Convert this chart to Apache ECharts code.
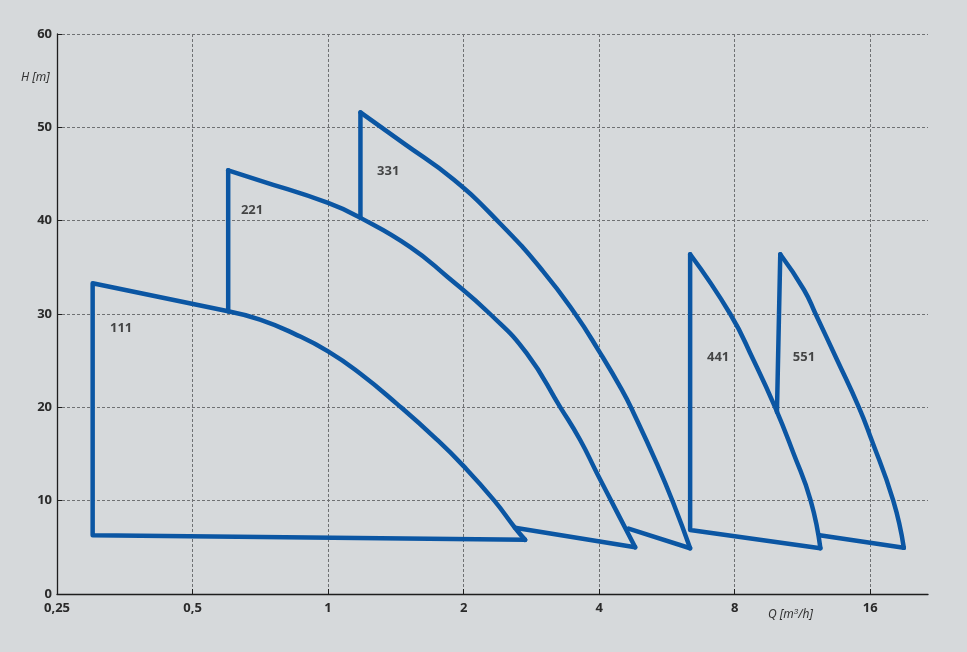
<!DOCTYPE html>
<html>
<head>
<meta charset="utf-8">
<script src="https://cdn.jsdelivr.net/npm/echarts@6/dist/echarts.min.js"></script>
<style>
  html, body { margin: 0; padding: 0; background: #d6d9db; }
  #chart { width: 967px; height: 652px; }
</style>
</head>
<body>
<div id="chart"></div>
<script>
const xTicks = [0.25, 0.5, 1, 2, 4, 8, 16];
const yTicks = [0, 10, 20, 30, 40, 50, 60];

// pump 111
const edge111 = [[2.74, 5.8], [0.3, 6.3], [0.3, 33.3], [0.6, 30.3]];
const curve111 = [[0.6, 30.3], [0.706, 29.4], [0.84, 27.9], [1.0, 26.0], [1.18, 23.6], [1.42, 20.4], [1.74, 16.6], [2.0, 13.7], [2.34, 10.0], [2.6, 7.1], [2.74, 5.8]];

// pump 221
const vert221 = [[0.6, 30.3], [0.6, 45.4]];
const bottom221 = [[2.6, 7.1], [4.81, 5.0]];
const curve221 = [[0.6, 45.4], [0.706, 44.3], [1.0, 41.9], [1.18, 40.3], [1.52, 37.2], [1.84, 34.0], [2.29, 30.0], [2.76, 25.8], [3.28, 20.0], [3.63, 16.5], [3.95, 13.0], [4.38, 8.8], [4.81, 5.0]];

// pump 331
const vert331 = [[1.18, 40.3], [1.18, 51.6]];
const bottom331 = [[4.65, 7.0], [6.37, 4.9]];
const curve331 = [[1.18, 51.6], [1.47, 48.3], [1.9, 44.4], [2.41, 39.7], [3.0, 34.6], [3.54, 30.0], [4.0, 26.0], [4.49, 21.9], [4.77, 19.4], [5.37, 14.0], [5.85, 9.7], [6.37, 4.9]];

// pump 441
const edge441 = [[6.37, 36.4], [6.37, 6.85], [12.4, 4.9]];
const curve441 = [[6.37, 36.4], [7.82, 30.0], [8.8, 25.1], [9.84, 20.0], [10.8, 15.1], [11.8, 10.0], [12.4, 4.9]];

// pump 551
const vert551 = [[9.93, 19.5], [10.1, 36.4]];
const bottom551 = [[12.35, 6.3], [19.0, 4.95]];
const curve551 = [[10.1, 36.4], [11.4, 32.6], [12.1, 30.0], [13.5, 25.1], [15.1, 20.0], [16.0, 16.9], [18.0, 10.0], [19.0, 4.95]];

const pumpNames = ['111', '221', '331', '441', '551'];
const pumpLabelPos = [[0.347, 28.5], [0.678, 41.1], [1.36, 45.3], [7.35, 25.4], [11.4, 25.4]];

const blue = '#0b56a3';
const labelFont = "'Noto Sans', sans-serif";

const straight = [edge111, vert221, bottom221, vert331, bottom331, edge441, vert551, bottom551];
const curves = [curve111, curve221, curve331, curve441, curve551];

const lineSeries = (data, smooth) => ({
  type: 'line',
  data,
  smooth,
  showSymbol: false,
  silent: true,
  lineStyle: { color: blue, width: 4.5, cap: 'round', join: 'round' },
  z: 3
});

const series = [
  ...straight.map(d => lineSeries(d, false)),
  ...curves.map(d => lineSeries(d, 0.5)),
  {
    type: 'scatter',
    symbolSize: 0,
    silent: true,
    data: pumpLabelPos.map((p, i) => ({ value: p, name: pumpNames[i] })),
    label: {
      show: true,
      position: 'inside',
      formatter: p => p.name,
      color: '#1e1e1e',
      fontSize: 13,
      fontWeight: 'bold',
      fontFamily: labelFont
    }
  }
];

const chart = echarts.init(document.getElementById('chart'));
chart.setOption({
  backgroundColor: '#d6d9db',
  animation: false,
  grid: { left: 57, right: 39, top: 34, bottom: 58 },
  xAxis: {
    type: 'log',
    logBase: 2,
    min: 0.25,
    max: 21.5,
    axisLine: { lineStyle: { color: '#1e1e1e', width: 1.3 } },
    axisTick: { inside: true, length: 5, lineStyle: { color: '#1e1e1e' } },
    axisLabel: {
      margin: 8,
      color: '#2a2a2a',
      fontSize: 13,
      fontWeight: 'bold',
      fontFamily: labelFont,
      showMaxLabel: false,
      formatter: v => {
        const t = xTicks.find(x => Math.abs(x - v) < 1e-6);
        return t === undefined ? '' : String(t).replace('.', ',');
      }
    },
    splitLine: { show: true, showMaxLine: false, lineStyle: { color: '#6f7173', type: [3, 2], width: 1 } }
  },
  yAxis: {
    type: 'value',
    min: yTicks[0],
    max: yTicks[yTicks.length - 1],
    interval: 10,
    axisLine: { show: true, lineStyle: { color: '#1e1e1e', width: 1.3 } },
    axisTick: { show: true, inside: true, length: 5, lineStyle: { color: '#1e1e1e' } },
    axisLabel: {
      margin: 5,
      color: '#2a2a2a',
      fontSize: 13,
      fontWeight: 'bold',
      fontFamily: labelFont
    },
    splitLine: { show: true, lineStyle: { color: '#6f7173', type: [3, 2], width: 1 } }
  },
  graphic: [
    {
      type: 'text',
      left: 21,
      top: 72,
      style: { text: 'H [m]', fill: '#333', font: "italic 12px 'Noto Sans', sans-serif" }
    },
    {
      type: 'text',
      left: 768,
      top: 608,
      style: {
        text: 'Q [m{sup|3}/h]',
        fill: '#333',
        font: "italic 12px 'Noto Sans', sans-serif",
        rich: { sup: { fontSize: 8, verticalAlign: 'top', padding: [0, 0, 6, 0], fontStyle: 'italic' } }
      }
    }
  ],
  series
});
</script>
</body>
</html>
